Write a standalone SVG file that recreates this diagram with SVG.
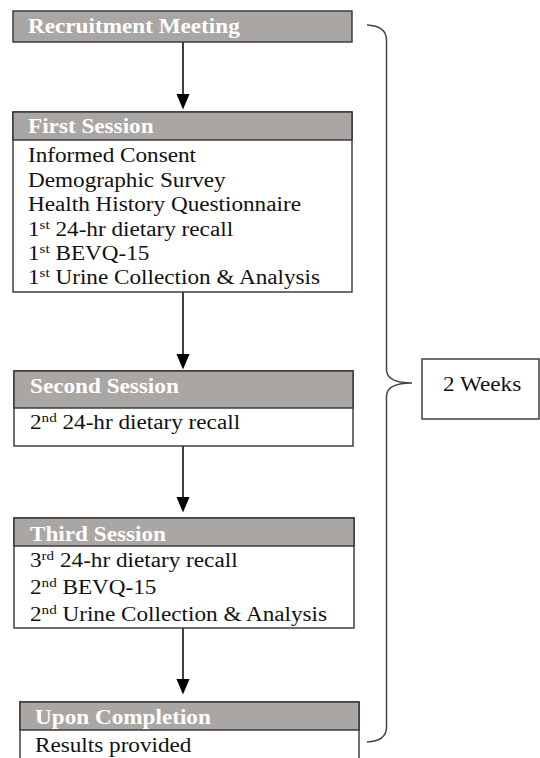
<svg xmlns="http://www.w3.org/2000/svg" width="540" height="758" viewBox="0 0 540 758">
<style>
  .hdr { fill: #aaa6a4; stroke: #333; stroke-width: 1.4; }
  .box { fill: #ffffff; stroke: #333; stroke-width: 1.4; }
  .ht { font-size: 20px; font-weight: bold; fill: #ffffff; }
  .bt { font-size: 20px; fill: #111; }
  .sup { font-size: 13px; }
  .conn { stroke: #000; stroke-width: 1.5; fill: none; }
  .brace { stroke: #444; stroke-width: 1.5; fill: none; }
</style>
<defs>
  <marker id="arr" markerWidth="16" markerHeight="19" refX="16" refY="8" orient="auto" markerUnits="userSpaceOnUse" viewBox="0 0 19 16">
    <path d="M0,0 L19,8 L0,16 Z" fill="#000"/>
  </marker>
</defs>

<g id="connectors">
  <line class="conn" x1="183" y1="42" x2="183" y2="107" marker-end="url(#arr)"/>
  <line class="conn" x1="183" y1="292" x2="183" y2="367" marker-end="url(#arr)"/>
  <line class="conn" x1="183" y1="446" x2="183" y2="510" marker-end="url(#arr)"/>
  <line class="conn" x1="183" y1="628" x2="183" y2="692" marker-end="url(#arr)"/>
</g>

<g font-family="Liberation Serif, Tinos, Times New Roman, Times, serif">
<g id="recruitment">
  <rect class="hdr" x="13" y="11" width="339" height="31"/>
  <text class="ht" transform="translate(28,33) scale(1.16,1)">Recruitment Meeting</text>
</g>

<g id="first-session">
  <rect class="box" x="13" y="112" width="339" height="180"/>
  <rect class="hdr" x="13" y="112" width="339" height="28"/>
  <text class="ht" transform="translate(28,133) scale(1.16,1)">First Session</text>
  <text class="bt" transform="translate(28,162) scale(1.16,1)">Informed Consent</text>
  <text class="bt" transform="translate(28,186.5) scale(1.16,1)">Demographic Survey</text>
  <text class="bt" transform="translate(28,211) scale(1.16,1)">Health History Questionnaire</text>
  <text class="bt" transform="translate(28,235.5) scale(1.16,1)">1<tspan class="sup" dy="-7">st</tspan><tspan dy="7"> 24-hr dietary recall</tspan></text>
  <text class="bt" transform="translate(28,260) scale(1.16,1)">1<tspan class="sup" dy="-7">st</tspan><tspan dy="7"> BEVQ-15</tspan></text>
  <text class="bt" transform="translate(28,284) scale(1.16,1)">1<tspan class="sup" dy="-7">st</tspan><tspan dy="7"> Urine Collection &amp; Analysis</tspan></text>
</g>

<g id="second-session">
  <rect class="box" x="14" y="371" width="339" height="75"/>
  <rect class="hdr" x="14" y="371" width="339" height="37"/>
  <text class="ht" transform="translate(30,393) scale(1.16,1)">Second Session</text>
  <text class="bt" transform="translate(30,429) scale(1.16,1)">2<tspan class="sup" dy="-7">nd</tspan><tspan dy="7"> 24-hr dietary recall</tspan></text>
</g>

<g id="third-session">
  <rect class="box" x="14" y="518" width="340" height="110"/>
  <rect class="hdr" x="14" y="518" width="340" height="28"/>
  <text class="ht" transform="translate(30,541) scale(1.16,1)">Third Session</text>
  <text class="bt" transform="translate(30,567) scale(1.16,1)">3<tspan class="sup" dy="-7">rd</tspan><tspan dy="7"> 24-hr dietary recall</tspan></text>
  <text class="bt" transform="translate(30,593.5) scale(1.16,1)">2<tspan class="sup" dy="-7">nd</tspan><tspan dy="7"> BEVQ-15</tspan></text>
  <text class="bt" transform="translate(30,620.5) scale(1.16,1)">2<tspan class="sup" dy="-7">nd</tspan><tspan dy="7"> Urine Collection &amp; Analysis</tspan></text>
</g>

<g id="upon-completion">
  <rect class="box" x="20" y="702" width="339" height="70"/>
  <rect class="hdr" x="20" y="702" width="339" height="28"/>
  <text class="ht" transform="translate(35,724) scale(1.16,1)">Upon Completion</text>
  <text class="bt" transform="translate(35,751.5) scale(1.16,1)">Results provided</text>
</g>

<g id="two-weeks">
  <rect class="box" x="422" y="359" width="117" height="60"/>
  <text class="bt" transform="translate(443,391) scale(1.16,1)">2 Weeks</text>
</g>
</g>

<g id="brace">
  <path class="brace" d="M367,25 Q386.5,26 386.5,40 L386.5,370 Q387,383 412,383 Q387,383 386.5,396 L386.5,728 Q386,741 367,742"/>
</g>
</svg>
